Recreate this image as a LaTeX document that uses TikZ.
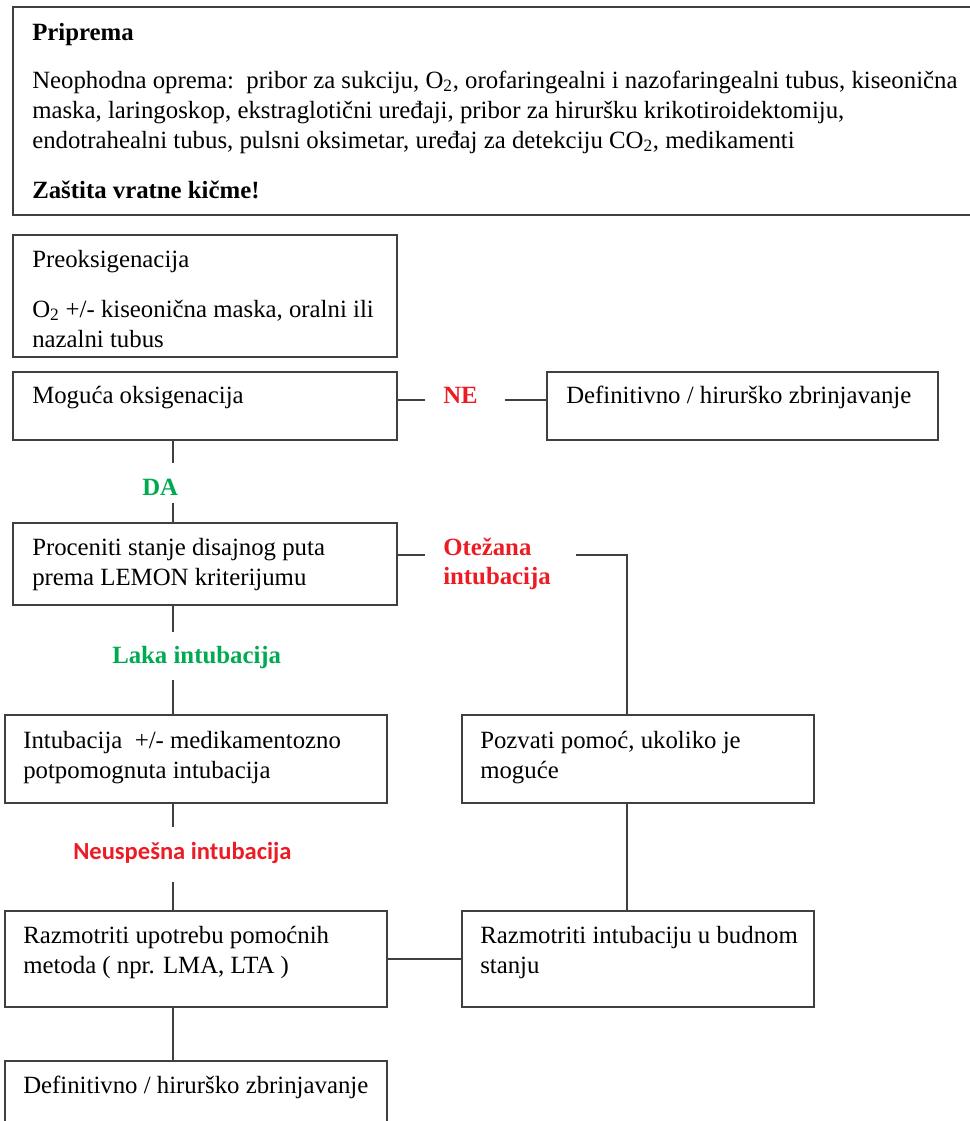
\documentclass[tikz,border=0pt]{standalone}
\usepackage{fontspec}
\setmainfont{Liberation Serif}
\newfontfamily\calibri{Carlito}
\usetikzlibrary{fit}
\definecolor{lineC}{RGB}{64,64,64}
\definecolor{redC}{RGB}{236,28,36}
\definecolor{greenC}{RGB}{0,170,80}
\tikzset{
  box/.style={draw=lineC, line width=1.4pt, inner sep=0pt, fill=none},
  conn/.style={draw=lineC, line width=1.4pt},
  t/.style={anchor=base west, inner sep=0pt, font=\fontsize{18.6pt}{22.5pt}\selectfont},
  tb/.style={t, font=\fontsize{18.6pt}{22.5pt}\selectfont\bfseries},
  lred/.style={tb, text=redC},
  lgreen/.style={tb, text=greenC},
  sred/.style={t, font=\fontsize{18.4pt}{22.5pt}\selectfont\calibri\bfseries, text=redC}
}
\newcommand{\bx}[5]{\path (#2,#3) coordinate (#1a) (#4,#5) coordinate (#1b); \node[box, fit=(#1a)(#1b)] (#1) {};}
\begin{document}
\begin{tikzpicture}[x=0.75pt,y=-0.75pt]
\useasboundingbox (0,0) rectangle (970,1121);
% boxes
\bx{top}{13}{7}{990}{215}
\bx{pre}{13}{235}{397}{357}
\bx{mog}{13}{372}{397}{440}
\bx{defa}{547}{372}{938}{440}
\bx{proc}{13}{523}{397}{605}
\bx{intb}{5}{715}{387}{803}
\bx{poz}{462}{715}{814}{803}
\bx{razl}{5}{911}{387}{1007}
\bx{razr}{462}{911}{814}{1007}
\bx{defb}{5}{1061}{387}{1150}
% texts
\node[tb] (t1) at (32,40) {Priprema};
\node[t] (t2) at (32,88) {Neophodna oprema:\ \ pribor za sukciju, O\textsubscript{2}, orofaringealni i nazofaringealni tubus, kiseonična};
\node[t] (t3) at (32,118) {maska, laringoskop, ekstraglotični uređaji, pribor za hiruršku krikotiroidektomiju,};
\node[t] (t4) at (32,148) {endotrahealni tubus, pulsni oksimetar, uređaj za detekciju CO\textsubscript{2}, medikamenti};
\node[tb] (t5) at (32,198) {Zaštita vratne kičme!};
\node[t] (t6) at (32,267) {Preoksigenacija};
\node[t] (t7) at (32,317) {O\textsubscript{2} +/- kiseonična maska, oralni ili};
\node[t] (t8) at (32,347) {nazalni tubus};
\node[t] (t9) at (32,403) {Moguća oksigenacija};
\node[t] (t10) at (566,403) {Definitivno / hirurško zbrinjavanje};
\node[lred] (ne) at (443,403) {NE};
\node[lgreen] (da) at (142,495) {DA};
\node[t] (t11) at (32,555) {Proceniti stanje disajnog puta};
\node[t] (t12) at (32,585) {prema LEMON kriterijumu};
\node[lred] (ot) at (443,555) {Otežana};
\node[lred] (ot2) at (443,584) {intubacija};
\node[lgreen] (laka) at (112,663) {Laka intubacija};
\node[t] (t13) at (23,748) {Intubacija\ \ +/- medikamentozno};
\node[t] (t14) at (23,778) {potpomognuta intubacija};
\node[t] (t15) at (480,748) {Pozvati pomoć, ukoliko je};
\node[t] (t16) at (480,778) {moguće};
\node[sred] (neu) at (73,859) {Neuspešna intubacija};
\node[t] (t17) at (23,943) {Razmotriti upotrebu pomoćnih};
\node[t] (t18) at (23,973) {metoda ( npr. LMA, LTA )};
\node[t] (t19) at (480,943) {Razmotriti intubaciju u budnom};
\node[t] (t20) at (480,973) {stanju};
\node[t] (t21) at (23,1093) {Definitivno / hirurško zbrinjavanje};
% connector ends
\coordinate (colL) at (173,0);
\coordinate (colR) at (627,0);
\coordinate (nea) at (425,400);
\coordinate (neb) at (505,400);
\coordinate (daa) at (173,463);
\coordinate (dab) at (173,503);
\coordinate (ota) at (425,555);
\coordinate (otb) at (576,555);
\coordinate (lka) at (173,632);
\coordinate (lkb) at (173,680);
\coordinate (nua) at (173,827);
\coordinate (nub) at (173,882);
% connectors
\draw[conn] (mog.east |- nea) -- (nea);
\draw[conn] (neb) -- (defa.west |- neb);
\draw[conn] (mog.south -| colL) -- (daa);
\draw[conn] (dab) -- (proc.north -| colL);
\draw[conn] (proc.east |- ota) -- (ota);
\draw[conn] (otb) -| (poz.north -| colR);
\draw[conn] (proc.south -| colL) -- (lka);
\draw[conn] (lkb) -- (intb.north -| colL);
\draw[conn] (intb.south -| colL) -- (nua);
\draw[conn] (nub) -- (razl.north -| colL);
\draw[conn] (poz.south -| colR) -- (razr.north -| colR);
\draw[conn] (razl.east) -- (razr.west);
\draw[conn] (razl.south -| colL) -- (defb.north -| colL);
\end{tikzpicture}
\end{document}
